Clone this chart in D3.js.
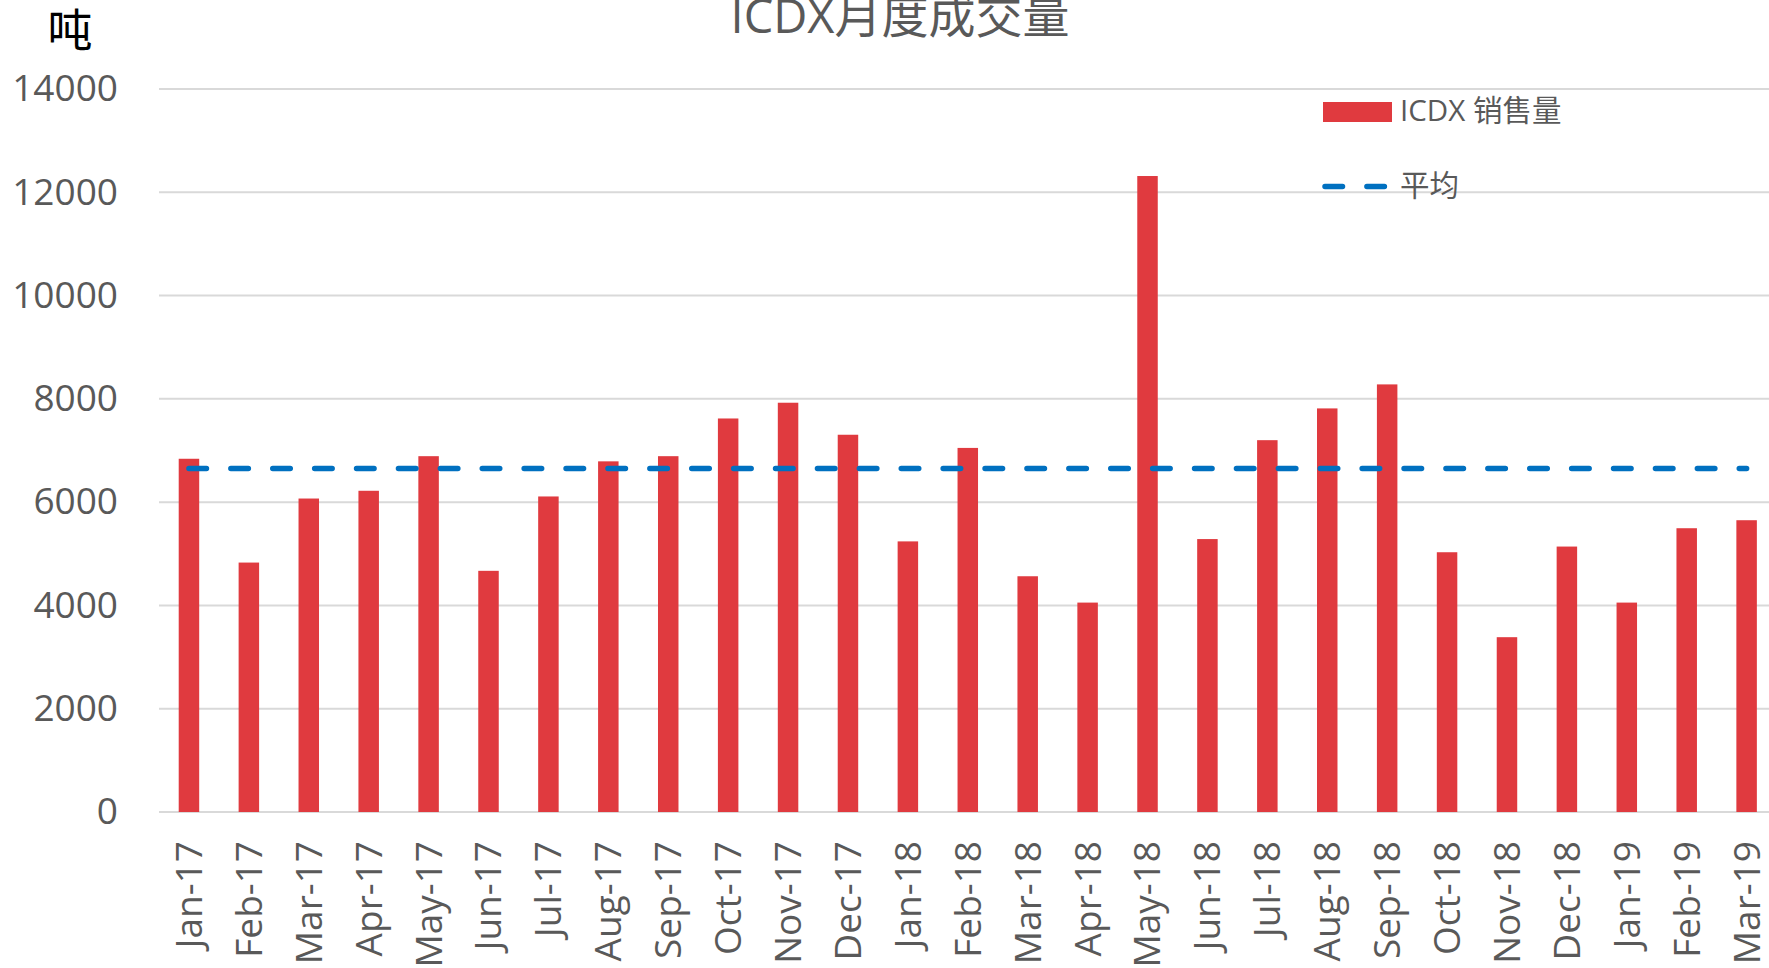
<!DOCTYPE html>
<html>
<head>
<meta charset="utf-8">
<script src="https://cdn.jsdelivr.net/npm/d3@7"></script>
<style>
  body { margin: 0; background: #fff; }
  svg { display: block; overflow: hidden; }
</style>
</head>
<body>
<div id="chart"></div>
<script>
// monthly ICDX volume (tonnes)
var months = ["Jan-17", "Feb-17", "Mar-17", "Apr-17", "May-17", "Jun-17", "Jul-17", "Aug-17", "Sep-17",
  "Oct-17", "Nov-17", "Dec-17", "Jan-18", "Feb-18", "Mar-18", "Apr-18", "May-18", "Jun-18",
  "Jul-18", "Aug-18", "Sep-18", "Oct-18", "Nov-18", "Dec-18", "Jan-19", "Feb-19", "Mar-19"];
var volumes = [6840, 4830, 6070, 6220, 6890, 4670, 6110, 6790, 6890,
  7620, 7925, 7305, 5240, 7050, 4565, 4055, 12315, 5285,
  7200, 7815, 8280, 5030, 3385, 5140, 4055, 5495, 5650];
var average = 6650;
var yTicks = [0, 2000, 4000, 6000, 8000, 10000, 12000, 14000];
var yMax = 14000;

var cfg = {
  w: 1769,
  h: 968,
  left: 159,
  step: 59.91,      // width of one month slot
  top: 89,
  bottom: 812,
  barColor: "#e03a3f",
  avgColor: "#0070c0",
  textColor: "#595959",
  gridColor: "#d9d9d9",
  font: "'Open Sans', 'Noto Sans CJK SC', sans-serif"
};

var svg = d3.select("#chart").append("svg")
  .attr("width", cfg.w)
  .attr("height", cfg.h);

var x = d3.scaleBand()
  .domain(months)
  .range([cfg.left, cfg.left + cfg.step * months.length])
  .paddingInner(0.658)
  .paddingOuter(0.329);

var y = d3.scaleLinear()
  .domain([0, yMax])
  .range([cfg.bottom, cfg.top]);

// gridlines
svg.append("g").selectAll("line")
  .data(yTicks)
  .enter().append("line")
  .attr("x1", cfg.left)
  .attr("x2", x.range()[1])
  .attr("y1", function (d) { return y(d); })
  .attr("y2", function (d) { return y(d); })
  .style("stroke", cfg.gridColor)
  .style("stroke-width", "2px");

// y axis labels
var yAxis = svg.append("g")
  .attr("transform", "translate(" + (cfg.left + 1) + ",0)")
  .call(d3.axisLeft(y).tickValues(yTicks).tickSize(0).tickPadding(42).tickFormat(d3.format("d")));
yAxis.select(".domain").remove();
yAxis.selectAll("text")
  .style("font-family", cfg.font)
  .style("font-size", "37px")
  .attr("fill", cfg.textColor);

// bars
svg.append("g").selectAll("rect")
  .data(volumes)
  .enter().append("rect")
  .attr("x", function (d, i) { return x(months[i]); })
  .attr("y", function (d) { return y(d); })
  .attr("width", x.bandwidth())
  .attr("height", function (d) { return y(0) - y(d); })
  .style("fill", cfg.barColor);

// x axis labels (rotated)
var xAxis = svg.append("g")
  .attr("transform", "translate(0," + cfg.bottom + ")")
  .call(d3.axisBottom(x).tickSize(0).tickPadding(0));
xAxis.select(".domain").remove();
xAxis.selectAll("text")
  .attr("transform", "rotate(-90)")
  .attr("text-anchor", "end")
  .attr("x", -29)
  .attr("y", 0)
  .attr("dy", "0.35em")
  .style("font-family", cfg.font)
  .style("font-size", "37px")
  .attr("fill", cfg.textColor);

// average line, from first to last month centre
var half = x.bandwidth() / 2;
var avgLine = d3.line()
  .x(function (d) { return x(d) + half; })
  .y(function () { return y(average); });
svg.append("path")
  .attr("d", avgLine([months[0], months[months.length - 1]]))
  .style("fill", "none")
  .style("stroke", cfg.avgColor)
  .style("stroke-width", "5.5px")
  .style("stroke-linecap", "round")
  .style("stroke-dasharray", "17.5 24.4");

// title
svg.append("text")
  .attr("x", 900)
  .attr("y", 33)
  .attr("text-anchor", "middle")
  .style("font-family", cfg.font)
  .style("font-size", "47px")
  .attr("fill", cfg.textColor)
  .text("ICDX月度成交量");

// unit
svg.append("text")
  .attr("x", 70)
  .attr("y", 47)
  .attr("text-anchor", "middle")
  .style("font-family", "'Noto Sans CJK SC', sans-serif")
  .style("font-size", "45px")
  .attr("fill", "#000")
  .text("吨");

// legend
var legend = svg.append("g").attr("transform", "translate(1323,0)");
legend.append("rect")
  .attr("x", 0).attr("y", 102)
  .attr("width", 69).attr("height", 20)
  .style("fill", cfg.barColor);
legend.append("text")
  .attr("x", 77).attr("y", 121)
  .style("font-family", cfg.font)
  .style("font-size", "29.5px")
  .attr("fill", cfg.textColor)
  .text("ICDX 销售量");
legend.append("line")
  .attr("x1", 2).attr("x2", 69)
  .attr("y1", 186.5).attr("y2", 186.5)
  .style("stroke", cfg.avgColor)
  .style("stroke-width", "5.5px")
  .style("stroke-linecap", "round")
  .style("stroke-dasharray", "17.5 24.4");
legend.append("text")
  .attr("x", 77).attr("y", 196)
  .style("font-family", cfg.font)
  .style("font-size", "29.5px")
  .attr("fill", cfg.textColor)
  .text("平均");
</script>
</body>
</html>
